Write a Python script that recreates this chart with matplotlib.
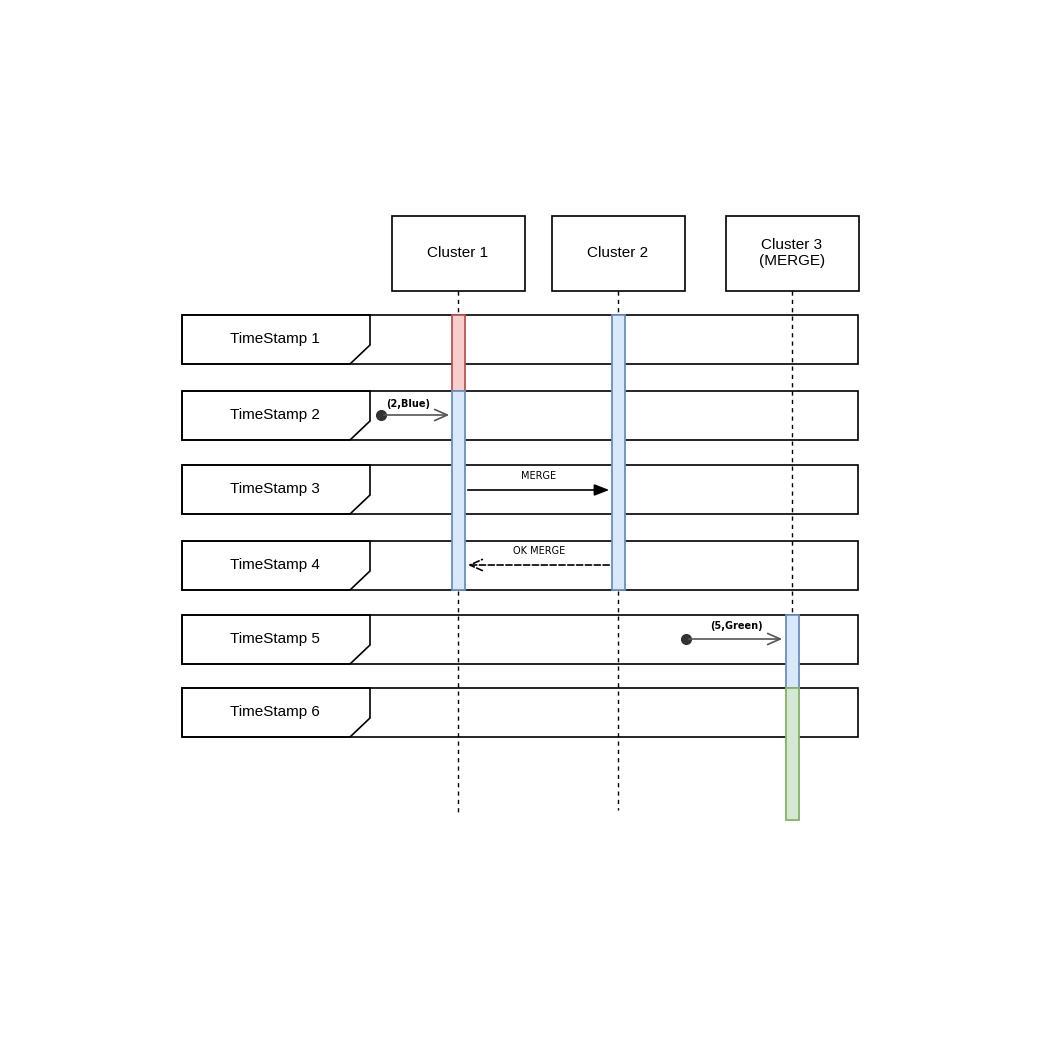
import matplotlib.pyplot as plt
from matplotlib.patches import Rectangle, Polygon

clusters = ["Cluster 1", "Cluster 2", "Cluster 3\n(MERGE)"]
cluster_x = [458, 618, 792]
lifeline_end = [815, 810, 820]
lanes = ["TimeStamp 1", "TimeStamp 2", "TimeStamp 3", "TimeStamp 4", "TimeStamp 5", "TimeStamp 6"]
lane_top = [315, 391, 465, 541, 615, 688]
# (cluster index, y start, y end, fill, edge)
activations = [
    (0, 315, 391, "#f8cecc", "#b85450"),
    (0, 391, 590, "#dae8fc", "#6c8ebf"),
    (1, 315, 590, "#dae8fc", "#6c8ebf"),
    (2, 615, 688, "#dae8fc", "#6c8ebf"),
    (2, 688, 820, "#d5e8d4", "#82b366"),
]

fig = plt.figure(figsize=(10.42, 10.42), dpi=100)
ax = fig.add_axes([0, 0, 1, 1])
ax.set_xlim(0, 1042)
ax.set_ylim(1042, 0)
ax.axis("off")

# lanes
for name, top in zip(lanes, lane_top):
    ax.add_patch(Rectangle((182, top), 676, 49, fill=False, ec="black", lw=1.2))
    ax.add_patch(Polygon([(182, top), (370, top), (370, top + 30), (350, top + 49), (182, top + 49)],
                         closed=True, fill=False, ec="black", lw=1.2))
    ax.text(275, top + 24, name, ha="center", va="center", fontsize=11, family="Liberation Sans")

# clusters and lifelines
for name, x, yend in zip(clusters, cluster_x, lifeline_end):
    ax.add_patch(Rectangle((x - 66, 216), 133, 75, fc="white", ec="black", lw=1.2, zorder=3))
    ax.text(x, 253, name, ha="center", va="center", fontsize=11, family="Liberation Sans", zorder=4)
    ax.plot([x, x], [291, yend], color="black", lw=1, ls=(0, (3, 3)), zorder=1)

for ci, y0, y1, fc, ec in activations:
    ax.add_patch(Rectangle((cluster_x[ci] - 6.5, y0), 13, y1 - y0, fc=fc, ec=ec, lw=1.3, zorder=5))

# messages
ax.plot(381, 415, "o", color="#333333", ms=7, zorder=6)
ax.annotate("", xy=(452, 415), xytext=(381, 415),
            arrowprops=dict(arrowstyle="->,head_length=0.9,head_width=0.4", color="#555555", lw=1.2), zorder=6)
ax.text(386, 404, "(2,Blue)", fontsize=7, fontweight="bold", ha="left", va="center")

ax.annotate("", xy=(612, 490), xytext=(465, 490),
            arrowprops=dict(arrowstyle="-|>,head_length=0.9,head_width=0.35", color="black", lw=1.2), zorder=6)
ax.text(539, 476, "MERGE", fontsize=7, ha="center", va="center")

ax.annotate("", xy=(465, 565), xytext=(612, 565),
            arrowprops=dict(arrowstyle="->,head_length=0.9,head_width=0.4", color="black", lw=1.2, ls="--"), zorder=6)
ax.text(539, 551, "OK MERGE", fontsize=7, ha="center", va="center")

ax.plot(686, 639, "o", color="#333333", ms=7, zorder=6)
ax.annotate("", xy=(785, 639), xytext=(686, 639),
            arrowprops=dict(arrowstyle="->,head_length=0.9,head_width=0.4", color="#555555", lw=1.2), zorder=6)
ax.text(736, 626, "(5,Green)", fontsize=7, fontweight="bold", ha="center", va="center")

fig.savefig("out.png", dpi=100, facecolor="white")
